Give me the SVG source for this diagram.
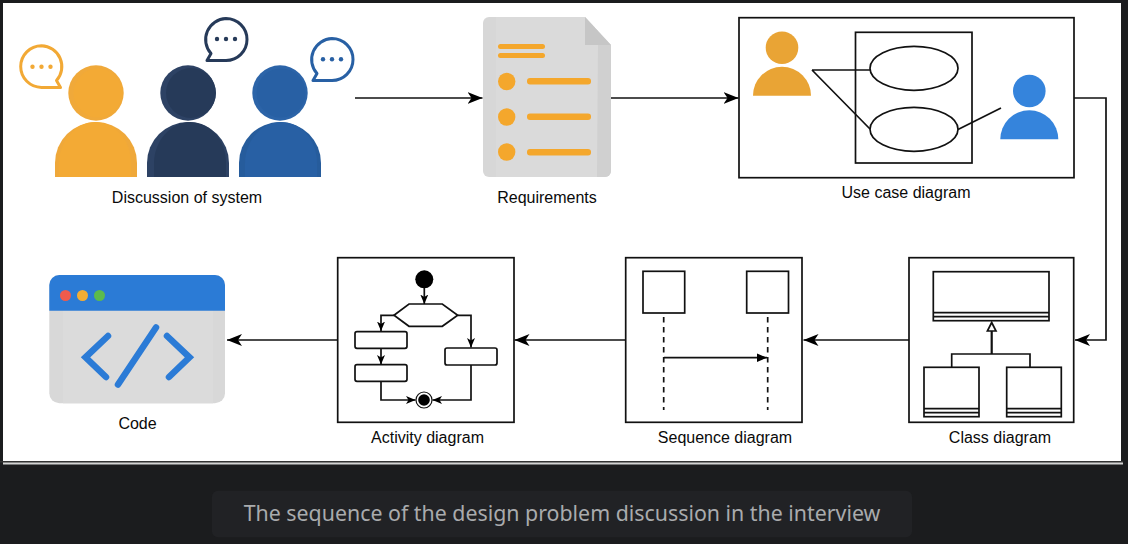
<svg xmlns="http://www.w3.org/2000/svg" width="1128" height="544" viewBox="0 0 1128 544">
<style>
.lb{font-family:"Liberation Sans",Arial,sans-serif;font-size:16px;fill:#0a0a0a;text-anchor:middle}
.box{fill:#fff;stroke:#111;stroke-width:1.7}
.ln{fill:none;stroke:#111;stroke-width:1.7}
</style>
<defs>
<marker id="ah" markerUnits="userSpaceOnUse" viewBox="0 0 16 12" refX="15" refY="6" markerWidth="16" markerHeight="12" orient="auto-start-reverse"><path d="M0 0L15 6L0 12L4 6Z" fill="#000"/></marker>
<marker id="as" markerUnits="userSpaceOnUse" viewBox="0 0 10 8" refX="9.500" refY="4" markerWidth="10" markerHeight="8" orient="auto"><path d="M0 0L9.500 4L0 8L2.500 4Z" fill="#000"/></marker>
<marker id="am" markerUnits="userSpaceOnUse" viewBox="0 0 11 9" refX="10.500" refY="4.500" markerWidth="11" markerHeight="9" orient="auto"><path d="M0 0L10.500 4.500L0 9Z" fill="#000"/></marker>
<path id="body" d="M-41 177V163A41 41 0 0 1 41 163V177Z"/>
<path id="bodyin" d="M-36 177V163C-36 142 -20 122 0 122C22 122 36 142 36 163V177Z"/>
<path id="actor" d="M-29 29A29 29 0 0 1 29 29Z"/>
</defs>
<rect width="1128" height="544" fill="#1b1c1e"/>
<rect x="3" y="461" width="1120" height="3.500" fill="#d4d4d4"/>
<rect x="3" y="3" width="1118" height="458" fill="#fff"/>
<rect x="0" y="461" width="1123" height="1.500" fill="#333"/>

<g id="connectors" class="ln">
<path d="M355 98H482.500" marker-end="url(#ah)"/>
<path d="M611 98H738.500" marker-end="url(#ah)"/>
<path d="M1074 98H1106V340H1075" marker-end="url(#ah)"/>
<path d="M909 340H803.500" marker-end="url(#ah)"/>
<path d="M626 340H514.500" marker-end="url(#ah)"/>
<path d="M338 340H227" marker-end="url(#ah)"/>
</g>

<g id="discussion">
<use href="#body" x="96" fill="#efa83a"/><use href="#bodyin" x="95" fill="#f3aa35"/>
<circle cx="96" cy="93" r="27.700" fill="#f0a93a"/><circle cx="98" cy="93" r="24.500" fill="#f3aa35"/>
<use href="#body" x="188" fill="#2d4264"/><use href="#bodyin" x="190" fill="#263a59"/>
<circle cx="188" cy="93" r="27.700" fill="#2d4264"/><circle cx="191" cy="93" r="25" fill="#263a59"/>
<use href="#body" x="280" fill="#265c9c"/><use href="#bodyin" x="281" fill="#2860a4"/>
<circle cx="280" cy="93" r="27.700" fill="#2c64a8"/><circle cx="281" cy="93" r="24.500" fill="#2860a4"/>
<path d="M41.500 45.800A20.800 20.800 0 1 0 41.500 87.400H60.500L56.500 80.500A20.800 20.800 0 0 0 41.500 45.800Z" fill="#fff" stroke="#f2a935" stroke-width="3" stroke-linejoin="round"/>
<g fill="#f2a935"><circle cx="32.500" cy="66.800" r="2.200"/><circle cx="41.500" cy="66.800" r="2.200"/><circle cx="50.500" cy="66.800" r="2.200"/></g>
<path d="M226 18.500A21 21 0 1 1 226 60.500H207L211 53.500A21 21 0 0 1 226 18.500Z" fill="#fff" stroke="#263a59" stroke-width="3" stroke-linejoin="round"/>
<g fill="#263a59"><circle cx="217" cy="39" r="2.200"/><circle cx="226" cy="39" r="2.200"/><circle cx="235" cy="39" r="2.200"/></g>
<path d="M332 38.500A21 21 0 1 1 332 80.500H313L317 73.500A21 21 0 0 1 332 38.500Z" fill="#fff" stroke="#2860a4" stroke-width="3" stroke-linejoin="round"/>
<g fill="#2860a4"><circle cx="323" cy="59.300" r="2.200"/><circle cx="332" cy="59.300" r="2.200"/><circle cx="341" cy="59.300" r="2.200"/></g>
<text class="lb" x="187" y="203">Discussion of system</text>
</g>

<g id="requirements">
<path d="M489 17H585L611 45V171A6 6 0 0 1 605 177H489A6 6 0 0 1 483 171V23A6 6 0 0 1 489 17Z" fill="#d7d7d7"/>
<path d="M496 17H585L598 31V177H496Z" fill="#dadada"/>
<path d="M598 45H611V171A6 6 0 0 1 605 177H597Z" fill="#d0d0d0"/>
<path d="M585 17V45H611Z" fill="#c6c6c6"/>
<g fill="#f4a72c">
<rect x="498" y="44" width="47" height="5" rx="2.500"/><rect x="498" y="53" width="47" height="5" rx="2.500"/>
<circle cx="506.700" cy="81.500" r="8.700"/><circle cx="506.700" cy="117" r="8.700"/><circle cx="506.700" cy="152" r="8.700"/>
<rect x="527" y="78" width="64" height="6.500" rx="3"/><rect x="527" y="113.500" width="64" height="6.500" rx="3"/><rect x="527" y="149" width="64" height="6.500" rx="3"/>
</g>
<text class="lb" x="547" y="203">Requirements</text>
</g>

<g id="use-case">
<rect class="box" x="739" y="17.700" width="335" height="160"/>
<rect class="box" x="855.500" y="32.300" width="116.500" height="130.700"/>
<ellipse class="box" cx="914" cy="68.300" rx="44" ry="22"/>
<ellipse class="box" cx="914" cy="129.300" rx="44" ry="22"/>
<path class="ln" d="M812 70H870M812 70L870 129M958 129.500L1001 108"/>
<use href="#actor" x="782" y="66.700" fill="#e9a435"/><circle cx="782" cy="47.700" r="16.300" fill="#e9a435"/>
<use href="#actor" x="1029.300" y="110.300" fill="#3584dc"/><circle cx="1029.300" cy="91" r="16.300" fill="#3584dc"/>
<text class="lb" x="906" y="198">Use case diagram</text>
</g>

<g id="class-diagram">
<rect class="box" x="909" y="257.700" width="164.700" height="164.600"/>
<rect class="box" x="933.300" y="271.700" width="115.700" height="49"/>
<path class="ln" d="M933.300 312.700H1049M933.300 316.700H1049"/>
<path class="ln" d="M951.700 367V354H1030V367"/>
<path d="M991.700 354V331" fill="none" stroke="#111" stroke-width="2.200"/>
<path d="M991.700 322.500L996 331H987.400Z" fill="#fff" stroke="#111" stroke-width="1.700"/>
<rect class="box" x="924" y="367.300" width="55" height="49.400"/>
<path class="ln" d="M924 408.700H979M924 412.700H979"/>
<rect class="box" x="1006.700" y="367.300" width="54.600" height="49.400"/>
<path class="ln" d="M1006.700 408.700H1061.300M1006.700 412.700H1061.300"/>
<text class="lb" x="1000" y="443">Class diagram</text>
</g>

<g id="sequence-diagram">
<rect class="box" x="625.700" y="257.700" width="176.300" height="164.600"/>
<rect class="box" x="643" y="271.300" width="41.700" height="41.700"/>
<rect class="box" x="746.700" y="271.300" width="41.800" height="41.700"/>
<path d="M663.700 317V410M767.700 317V410" fill="none" stroke="#111" stroke-width="1.700" stroke-dasharray="5.500 4.500"/>
<path class="ln" d="M664 357.700H767" marker-end="url(#am)"/>
<text class="lb" x="725" y="443">Sequence diagram</text>
</g>

<g id="activity-diagram">
<rect class="box" x="337.700" y="257.700" width="176.300" height="164.600"/>
<circle cx="424.300" cy="279.300" r="9" fill="#000"/>
<path class="box" d="M394 315.300L409 304H442.300L457.700 315.300L442.300 326.300H409Z"/>
<rect class="box" x="355" y="331.700" width="52" height="16.600" rx="2"/>
<rect class="box" x="355" y="364.700" width="52" height="16.600" rx="2"/>
<rect class="box" x="445" y="348" width="52" height="17" rx="2"/>
<circle cx="424" cy="400" r="8" fill="#fff" stroke="#111" stroke-width="1.200"/>
<circle cx="424" cy="400" r="5.800" fill="#000"/>
<g class="ln">
<path d="M424.300 288V304" marker-end="url(#as)"/>
<path d="M394 315.300H381V331" marker-end="url(#as)"/>
<path d="M381 348.300V364.500" marker-end="url(#as)"/>
<path d="M381 381.300V400H415.500" marker-end="url(#as)"/>
<path d="M457.700 315.300H471V347.500" marker-end="url(#as)"/>
<path d="M471 365V400H432.500" marker-end="url(#as)"/>
</g>
<text class="lb" x="427.500" y="443">Activity diagram</text>
</g>

<g id="code">
<rect x="49.300" y="275" width="175.700" height="128.300" rx="10" fill="#d8d8d8"/>
<rect x="63" y="310" width="150" height="93.300" fill="#dbdbdb"/>
<path d="M49.300 310.700V285A10 10 0 0 1 59.300 275H215A10 10 0 0 1 225 285V310.700Z" fill="#2b7bd6"/>
<circle cx="65.500" cy="295.500" r="5.500" fill="#ef5b4c"/>
<circle cx="82.500" cy="295.500" r="5.500" fill="#f4ad33"/>
<circle cx="99.500" cy="295.500" r="5.500" fill="#5cbb4d"/>
<path d="M108 336L85.500 357.300L106 377M156 327.500L118 384.500M167 336L189.500 357.300L169 377" fill="none" stroke="#2b7bd6" stroke-width="6.500" stroke-linecap="round"/>
<text class="lb" x="137.500" y="429">Code</text>
</g>

<g id="caption">
<rect x="212" y="490.700" width="700" height="46.600" rx="6" fill="#212225"/>
<text x="562" y="521" font-family="'Noto Sans',sans-serif" font-size="21.350" fill="#a9abad" text-anchor="middle">The sequence of the design problem discussion in the interview</text>
</g>
</svg>
